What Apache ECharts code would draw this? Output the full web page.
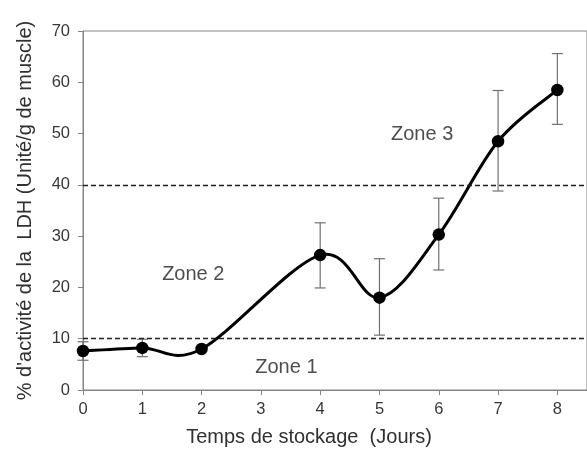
<!DOCTYPE html>
<html>
<head>
<meta charset="utf-8">
<script src="https://cdn.jsdelivr.net/npm/echarts@6/dist/echarts.min.js"></script>
<style>html,body{margin:0;padding:0;background:#fff}#c{width:587px;height:452px}</style>
</head>
<body>
<div id="c"></div>
<script>
const days = [0, 1, 2, 4, 5, 6, 7, 8];
const ldh = [7.6, 8.2, 8.0, 26.3, 18.0, 30.3, 48.5, 58.5];
const errLow = [5.8, 6.5, 7.6, 19.9, 10.7, 23.4, 38.8, 51.8];
const errHigh = [9.4, 9.9, 8.4, 32.6, 25.6, 37.4, 58.4, 65.6];
const thresholds = [10, 40];
const zoneTexts = ['Zone 1', 'Zone 2', 'Zone 3'];
const zoneAt = [[3.43, 4.4], [1.86, 22.5], [5.72, 49.8]];
const xTitle = 'Temps de stockage  (Jours)';
const yTitle = "% d'activité de la  LDH (Unité/g de muscle)";

const FONT = 'Liberation Sans, Arial, sans-serif';
const chart = echarts.init(document.getElementById('c'), null, {renderer: 'canvas'});
const axisGray = '#858585';

// Excel-like smoothed curve (cardinal spline, tension 1/6) through library coords
function smoothPath(pts) {
  const n = pts.length;
  const P = i => pts[Math.max(0, Math.min(n - 1, i))];
  let d = 'M' + pts[0][0] + ' ' + pts[0][1];
  for (let i = 0; i < n - 1; i++) {
    const p0 = P(i - 1), p1 = P(i), p2 = P(i + 1), p3 = P(i + 2);
    const c1x = p1[0] + (p2[0] - p0[0]) / 6, c1y = p1[1] + (p2[1] - p0[1]) / 6;
    const c2x = p2[0] - (p3[0] - p1[0]) / 6, c2y = p2[1] - (p3[1] - p1[1]) / 6;
    d += ' C' + c1x + ' ' + c1y + ' ' + c2x + ' ' + c2y + ' ' + p2[0] + ' ' + p2[1];
  }
  return d;
}

chart.setOption({
  animation: false,
  grid: {left: 83, top: 31, bottom: 62, right: -3, show: true, borderColor: axisGray, borderWidth: 1},
  xAxis: {
    type: 'value', min: 0, max: 8.5, interval: 1,
    axisLine: {show: true, lineStyle: {color: axisGray, width: 1}},
    axisTick: {show: true, length: 5, lineStyle: {color: axisGray}},
    splitLine: {show: false},
    axisLabel: {color: '#383838', fontSize: 16.5, fontFamily: FONT, margin: 11, showMaxLabel: false,
      formatter: v => Number.isInteger(v) ? String(v) : ''},
    name: xTitle, nameLocation: 'middle', nameGap: 37,
    nameTextStyle: {color: '#303030', fontSize: 20, fontFamily: FONT, padding: [0, 52, 0, 0]}
  },
  yAxis: {
    type: 'value', min: 0, max: 70, interval: 10,
    axisLine: {show: true, lineStyle: {color: axisGray, width: 1}},
    axisTick: {show: true, length: 5, lineStyle: {color: axisGray}},
    splitLine: {show: false},
    axisLabel: {color: '#383838', fontSize: 16.5, fontFamily: FONT, margin: 13},
    name: yTitle, nameLocation: 'middle', nameGap: 48,
    nameTextStyle: {color: '#303030', fontSize: 20, fontFamily: FONT}
  },
  series: [
    {
      type: 'custom', z: 1,
      data: days.map((d, i) => [d, errLow[i], errHigh[i]]),
      renderItem: (params, api) => {
        const lo = api.coord([api.value(0), api.value(1)]);
        const hi = api.coord([api.value(0), api.value(2)]);
        const w = 5.5;
        const st = {stroke: '#707070', lineWidth: 1.2};
        return {type: 'group', children: [
          {type: 'line', shape: {x1: lo[0], y1: lo[1], x2: hi[0], y2: hi[1]}, style: st},
          {type: 'line', shape: {x1: lo[0] - w, y1: lo[1], x2: lo[0] + w, y2: lo[1]}, style: st},
          {type: 'line', shape: {x1: hi[0] - w, y1: hi[1], x2: hi[0] + w, y2: hi[1]}, style: st}
        ]};
      }
    },
    {
      type: 'custom', z: 2,
      data: days.map((d, i) => [d, ldh[i]]),
      renderItem: (params, api) => {
        if (params.dataIndex !== 0) return null;
        const pts = days.map((d, i) => api.coord([d, ldh[i]]));
        return {type: 'path', shape: {pathData: smoothPath(pts)},
          style: {stroke: '#000', lineWidth: 3, fill: 'none'}};
      },
      markLine: {
        silent: true, symbol: 'none', label: {show: false},
        lineStyle: {color: '#222', type: [5, 3], width: 1.3},
        data: thresholds.map(t => ({yAxis: t}))
      }
    },
    {
      type: 'scatter', z: 3,
      data: days.map((d, i) => [d, ldh[i]]),
      symbol: 'circle', symbolSize: 12.5,
      itemStyle: {color: '#000', opacity: 1}
    },
    {
      type: 'scatter', z: 4, symbolSize: 0, silent: true,
      data: zoneAt.map((p, i) => ({value: p, name: zoneTexts[i]})),
      label: {show: true, position: 'inside', formatter: p => p.name,
        color: '#202020', fontSize: 20, fontFamily: FONT}
    }
  ]
});
</script>
</body>
</html>
